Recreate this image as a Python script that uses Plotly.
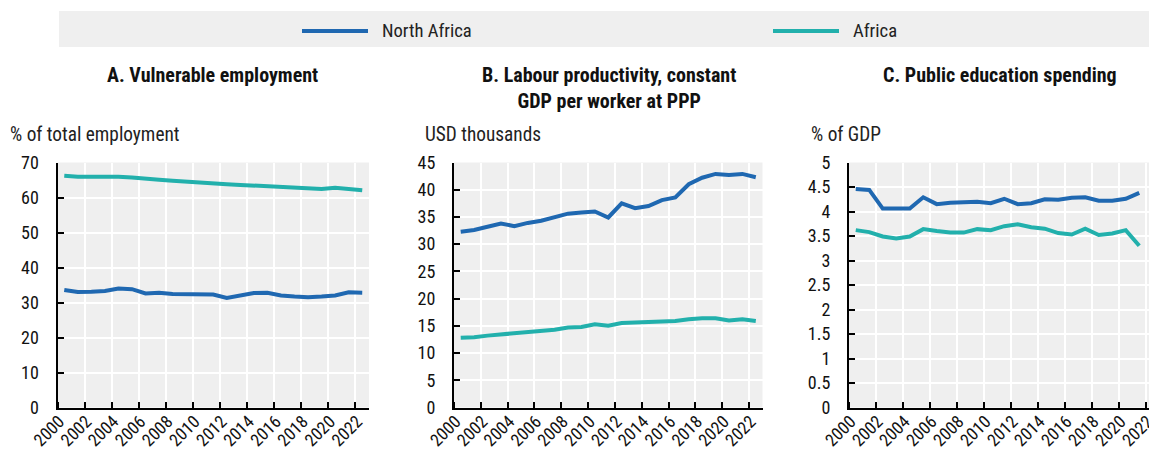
import plotly.graph_objects as go

years = list(range(2000, 2023))
years_c = list(range(2000, 2022))
tick_years = list(range(2000, 2023, 2))

# Panel A: Vulnerable employment (% of total employment)
vuln_north_africa = [33.6, 33.0, 33.1, 33.3, 34.0, 33.8, 32.6, 32.8, 32.4, 32.4, 32.2, 32.3,
                     31.3, 32.0, 32.7, 32.8, 32.0, 31.7, 31.5, 31.7, 32.0, 32.9, 32.8]
vuln_africa = [66.2, 65.9, 65.9, 66.0, 65.9, 65.7, 65.3, 65.1, 64.8, 64.5, 64.2, 64.1,
               63.8, 63.6, 63.4, 63.2, 63.0, 62.8, 62.6, 62.4, 62.8, 62.5, 62.1]

# Panel B: Labour productivity (USD thousands)
prod_north_africa = [32.3, 32.6, 33.2, 33.8, 33.3, 33.9, 34.3, 34.9, 35.6, 35.8, 36.0, 34.9,
                     37.5, 36.6, 37.0, 38.1, 38.6, 41.0, 42.2, 42.9, 42.7, 42.9, 42.3]
prod_africa = [12.8, 12.9, 13.2, 13.4, 13.6, 13.8, 14.1, 14.3, 14.7, 14.8, 15.3, 15.0,
               15.5, 15.6, 15.8, 15.9, 15.9, 16.2, 16.4, 16.4, 16.0, 16.2, 15.9]

# Panel C: Public education spending (% of GDP), 2000-2021
edu_north_africa = [4.46, 4.44, 4.06, 4.07, 4.06, 4.29, 4.15, 4.18, 4.20, 4.20, 4.17, 4.26,
                    4.15, 4.17, 4.25, 4.24, 4.28, 4.29, 4.22, 4.22, 4.26, 4.38]
edu_africa = [3.62, 3.58, 3.49, 3.45, 3.49, 3.64, 3.60, 3.57, 3.57, 3.64, 3.62, 3.70,
              3.74, 3.68, 3.65, 3.56, 3.53, 3.65, 3.52, 3.55, 3.62, 3.30]

series_names = ["North Africa", "Africa"]
colors = {"North Africa": "#1F68B1", "Africa": "#22B0AC"}

panel_titles = ["A. Vulnerable employment",
                "B. Labour productivity, constant<br>GDP per worker at PPP",
                "C. Public education spending"]
unit_titles = ["% of total employment", "USD thousands", "% of GDP"]

# The page body has an 8px default margin; size the figure so it fits the 1157x450 window
OFF = 8
W, H = 1157 - OFF, 450 - OFF


def px(x):
    return (x - OFF) / W


def py(y):
    return 1 - (y - OFF) / H


FONT = "Liberation Sans Narrow, Arial Narrow, Roboto Condensed, Liberation Sans, Arial, sans-serif"

fig = go.Figure()

panels = [
    (years, vuln_north_africa, vuln_africa, "x", "y"),
    (years, prod_north_africa, prod_africa, "x2", "y2"),
    (years_c, edu_north_africa, edu_africa, "x3", "y3"),
]
for xs, na, af, xa, ya in panels:
    for name, vals in (("North Africa", na), ("Africa", af)):
        fig.add_trace(go.Scatter(x=xs, y=vals, mode="lines", name=name,
                                 line=dict(color=colors[name], width=4),
                                 xaxis=xa, yaxis=ya, showlegend=False))

# pixel extents in window coordinates
x_dom_px = [(57.5, 369.0), (454.0, 762.5), (849.0, 1157.0)]
x_ranges = [[1999.5, 2022.5], [1999.5, 2022.5], [1999.5, 1999.5 + (1157 - 849) / 13.5]]
y_dom = [py(407.5), py(162.5)]
y_ranges = [[0, 70], [0, 45], [0, 5]]
y_dticks = [10, 5, 0.5]

boundaries = [y + 0.5 for y in range(1999, 2023, 2)]

layout = dict(
    width=W, height=H,
    margin=dict(l=0, r=0, t=0, b=0, autoexpand=False),
    paper_bgcolor="white",
    plot_bgcolor="#EFEFEF",
    font=dict(family=FONT, size=18, color="#222222"),
    showlegend=False,
)
for i in range(3):
    sfx = "" if i == 0 else str(i + 1)
    layout["xaxis" + sfx] = dict(
        domain=[px(x_dom_px[i][0]), min(1.0, px(x_dom_px[i][1]))],
        range=x_ranges[i],
        anchor="y" + sfx,
        automargin=False,
        tickmode="array", tickvals=tick_years, ticktext=[str(t) for t in tick_years],
        tickangle=-45, ticks="", showgrid=False,
        showline=True, linecolor="black", linewidth=2,
        ticklabelstandoff=-5,
        ticklabelshift=-5,
        ticklabeloverflow="allow",
        tickfont=dict(size=17.5, color="#111111"),
        minor=dict(tickmode="array", tickvals=boundaries, showgrid=True,
                   gridcolor="white", gridwidth=1.5,
                   ticks="inside", ticklen=6, tickwidth=2, tickcolor="black"),
        zeroline=False, fixedrange=True,
    )
    layout["yaxis" + sfx] = dict(
        domain=y_dom,
        range=y_ranges[i],
        anchor="x" + sfx,
        automargin=False,
        tickmode="linear", tick0=0, dtick=y_dticks[i],
        showgrid=True, gridcolor="white", gridwidth=1.5,
        ticks="inside", ticklen=6, tickwidth=2, tickcolor="black",
        showline=True, linecolor="black", linewidth=2,
        ticklabelstandoff=13,
        tickfont=dict(size=18, color="#111111"),
        zeroline=False, fixedrange=True,
    )
fig.update_layout(**layout)

shapes = [dict(type="rect", xref="paper", yref="paper",
               x0=px(59), x1=1.0, y0=py(47), y1=py(11),
               fillcolor="#EFEFEF", line=dict(width=0), layer="below")]
annotations = []
legend_pos = [(302, 368, 380), (773, 839, 851)]
for name, (lx0, lx1, tx) in zip(series_names, legend_pos):
    shapes.append(dict(type="line", xref="paper", yref="paper",
                       x0=px(lx0), x1=px(lx1), y0=py(31), y1=py(31),
                       line=dict(color=colors[name], width=4)))
    annotations.append(dict(text=name, xref="paper", yref="paper",
                            x=px(tx), y=py(31), xanchor="left", yanchor="middle",
                            showarrow=False, font=dict(size=18.6, color="#222222")))

title_centers = [212, 609, 1000]
for t, cx in zip(panel_titles, title_centers):
    annotations.append(dict(text="<b>" + t + "</b>", xref="paper", yref="paper",
                            x=px(cx), y=py(61), xanchor="center", yanchor="top",
                            showarrow=False, font=dict(size=20, color="#111111")))

unit_x = [8, 423, 809]
for t, ux in zip(unit_titles, unit_x):
    annotations.append(dict(text=t, xref="paper", yref="paper",
                            x=px(ux), y=py(134), xanchor="left", yanchor="middle",
                            showarrow=False, font=dict(size=19.3, color="#222222")))

fig.update_layout(shapes=shapes, annotations=annotations)
fig.write_html("out.html")
